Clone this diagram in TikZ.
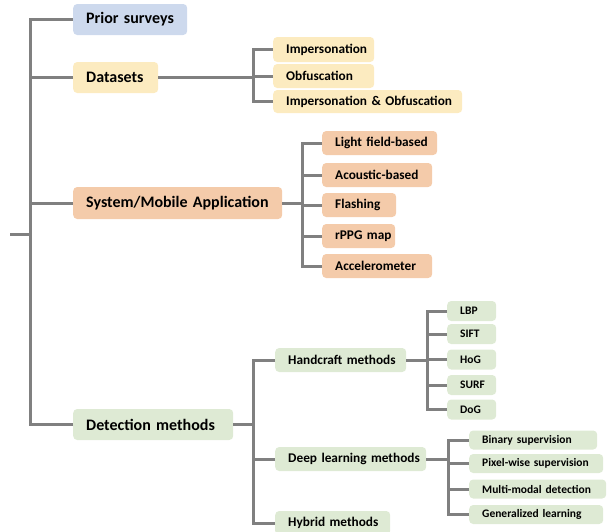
\documentclass[tikz,border=0pt]{standalone}
\usepackage{fontspec}
\setmainfont{Carlito}
\definecolor{cblue}{HTML}{CDD9ED}
\definecolor{cyel}{HTML}{FCEBC0}
\definecolor{cpeach}{HTML}{F4CBAA}
\definecolor{cgreen}{HTML}{DEEAD4}
\definecolor{cline}{HTML}{808080}
\tikzset{
  box/.style={anchor=west, rounded corners=4pt, inner xsep=13pt, inner ysep=0pt, align=left, font=\bfseries},
  lone/.style={box, font=\fontsize{16}{18}\selectfont\bfseries, minimum height=31pt},
  ltwo/.style={box, font=\fontsize{13.3}{15}\selectfont\bfseries, minimum height=24pt},
  lthree/.style={box, font=\fontsize{11.5}{13}\selectfont\bfseries, minimum height=19pt},
  conn/.style={draw=cline, line width=3pt},
}
\begin{document}
\begin{tikzpicture}[x=1pt,y=-1pt]
\useasboundingbox (0,0) rectangle (611,531);
% level 1
\node[lone, fill=cblue, text width=88pt] (prior) at (73,19.5) {\mbox{Prior surveys}};
\node[lone, fill=cyel, text width=59pt] (datasets) at (73,77.5) {\mbox{Datasets}};
\node[lone, fill=cpeach, text width=183pt, minimum height=32pt] (sys) at (73,203) {\mbox{System/Mobile Application}};
\node[lone, fill=cgreen, text width=134pt] (det) at (73,424.5) {\mbox{Detection methods}};
% datasets
\node[ltwo, fill=cyel, text width=75pt, minimum height=25pt] (imp) at (273,49.5) {\mbox{Impersonation}};
\node[ltwo, fill=cyel, text width=75pt] (obf) at (273,76) {\mbox{Obfuscation}};
\node[ltwo, fill=cyel, text width=163pt, minimum height=23pt] (impobf) at (273,101.5) {\mbox{Impersonation \& Obfuscation}};
% system
\node[ltwo, fill=cpeach, text width=89pt] (light) at (322,143) {\mbox{Light field-based}};
\node[ltwo, fill=cpeach, text width=84pt] (acou) at (322,175) {\mbox{Acoustic-based}};
\node[ltwo, fill=cpeach, text width=48pt] (flash) at (322,205) {\mbox{Flashing}};
\node[ltwo, fill=cpeach, text width=47pt] (rppg) at (322,236) {\mbox{rPPG map}};
\node[ltwo, fill=cpeach, text width=84pt] (accel) at (322,266) {\mbox{Accelerometer}};
% detection
\node[ltwo, fill=cgreen, text width=105pt] (hand) at (275,360) {\mbox{Handcraft methods}};
\node[ltwo, fill=cgreen, text width=125pt] (deep) at (275,459) {\mbox{Deep learning methods}};
\node[ltwo, fill=cgreen, text width=89pt] (hybrid) at (275,523) {\mbox{Hybrid methods}};
% handcraft
\node[lthree, fill=cgreen, text width=23pt, minimum height=20pt] (lbp) at (447,311) {\mbox{LBP}};
\node[lthree, fill=cgreen, text width=23pt, minimum height=20pt] (sift) at (447,334) {\mbox{SIFT}};
\node[lthree, fill=cgreen, text width=23pt, minimum height=20pt] (hog) at (447,359.5) {\mbox{HoG}};
\node[lthree, fill=cgreen, text width=23pt, minimum height=20pt] (surf) at (447,385) {\mbox{SURF}};
\node[lthree, fill=cgreen, text width=23pt, minimum height=20pt] (dog) at (447,409.5) {\mbox{DoG}};
% deep
\node[lthree, fill=cgreen, text width=102pt] (binary) at (469,440) {\mbox{Binary supervision}};
\node[lthree, fill=cgreen, text width=108pt] (pixel) at (469,463.5) {\mbox{Pixel-wise supervision}};
\node[lthree, fill=cgreen, text width=111pt] (multi) at (469,489) {\mbox{Multi-modal detection}};
\node[lthree, fill=cgreen, text width=108pt] (gen) at (469,514.5) {\mbox{Generalized learning}};
% junctions
\coordinate (root) at (10,234);
\coordinate (tr) at (30,234);
\coordinate (dj) at (253,77.5);
\coordinate (sj) at (302,203);
\coordinate (ej) at (253,424.5);
\coordinate (hj) at (427,360);
\coordinate (lj) at (448,459);
% connectors
\draw[conn] (root) -- (tr);
\draw[conn] (prior.west) -| (tr);
\draw[conn] (det.west) -| (tr);
\draw[conn] (datasets.west) -- (datasets.west -| tr);
\draw[conn] (sys.west) -- (sys.west -| tr);
\draw[conn] (datasets.east) -- (dj);
\draw[conn] (imp.west) -| (dj);
\draw[conn] (impobf.west) -| (dj);
\draw[conn] (obf.west) -- (obf.west -| dj);
\draw[conn] (sys.east) -- (sj);
\draw[conn] (light.west) -| (sj);
\draw[conn] (accel.west) -| (sj);
\draw[conn] (acou.west) -- (acou.west -| sj);
\draw[conn] (flash.west) -- (flash.west -| sj);
\draw[conn] (rppg.west) -- (rppg.west -| sj);
\draw[conn] (det.east) -- (ej);
\draw[conn] (hand.west) -| (ej);
\draw[conn] (hybrid.west) -| (ej);
\draw[conn] (deep.west) -- (deep.west -| ej);
\draw[conn] (hand.east) -- (hj);
\draw[conn] (lbp.west) -| (hj);
\draw[conn] (dog.west) -| (hj);
\draw[conn] (sift.west) -- (sift.west -| hj);
\draw[conn] (hog.west) -- (hog.west -| hj);
\draw[conn] (surf.west) -- (surf.west -| hj);
\draw[conn] (deep.east) -- (lj);
\draw[conn] (binary.west) -| (lj);
\draw[conn] (gen.west) -| (lj);
\draw[conn] (pixel.west) -- (pixel.west -| lj);
\draw[conn] (multi.west) -- (multi.west -| lj);
\end{tikzpicture}
\end{document}
